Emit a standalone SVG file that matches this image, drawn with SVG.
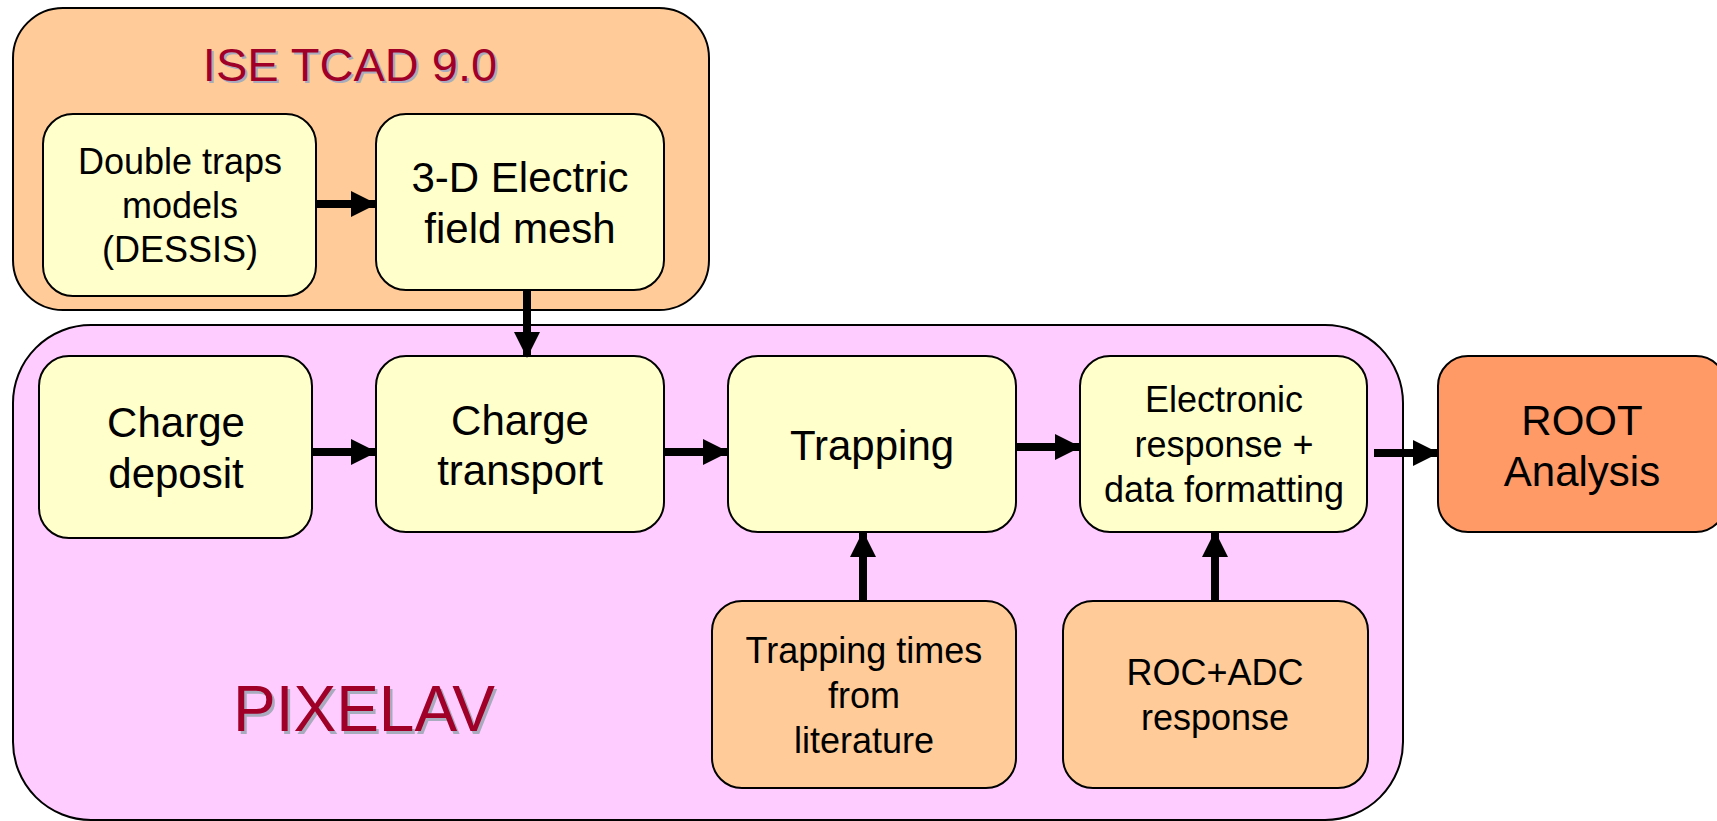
<svg xmlns="http://www.w3.org/2000/svg" width="1717" height="821" viewBox="0 0 1717 821">
<style>
.box{stroke:#000;stroke-width:2}
.yel{fill:#FFFFCC}
.peach{fill:#FFCC99}
.pink{fill:#FFCCFF}
.root{fill:#FF9966}
.t{font-family:"Liberation Sans",Arial,sans-serif;fill:#000;text-anchor:middle}
.t42{font-size:42px}
.t36{font-size:36px}
.title{font-family:"Liberation Sans",Arial,sans-serif;fill:#A00028;text-anchor:middle}
.shadow{fill:#A8ABBE}
.conn{stroke:#000;stroke-width:8;fill:none}
</style>
<defs>
<marker id="ah" markerUnits="userSpaceOnUse" markerWidth="26" markerHeight="26" viewBox="0 0 26 26" refX="25" refY="13" orient="auto">
<path d="M0,0 L26,13 L0,26 Z" fill="#000"/>
</marker>
</defs>
<rect width="1717" height="821" fill="#fff"/>

<g id="ise-tcad">
<rect class="box peach" x="13" y="8" width="696" height="302" rx="50" ry="50"/>
<text class="title shadow" x="352" y="82.5" font-size="47">ISE TCAD 9.0</text>
<text class="title" x="350" y="80.5" font-size="47">ISE TCAD 9.0</text>
</g>

<g id="pixelav">
<rect class="box pink" x="13" y="325" width="1390" height="495" rx="78" ry="78"/>
<text class="title shadow" x="366.5" y="733.5" font-size="64">PIXELAV</text>
<text class="title" x="364" y="731" font-size="64">PIXELAV</text>
</g>

<g id="double-traps">
<rect class="box yel" x="43" y="114" width="273" height="182" rx="30" ry="30"/>
<text class="t t36" x="180" y="174">Double traps</text>
<text class="t t36" x="180" y="218">models</text>
<text class="t t36" x="180" y="262">(DESSIS)</text>
</g>

<g id="efield-mesh">
<rect class="box yel" x="376" y="114" width="288" height="176" rx="30" ry="30"/>
<text class="t t42" x="520" y="192">3-D Electric</text>
<text class="t t42" x="520" y="243">field mesh</text>
</g>

<g id="charge-deposit">
<rect class="box yel" x="39" y="356" width="273" height="182" rx="30" ry="30"/>
<text class="t t42" x="176" y="437">Charge</text>
<text class="t t42" x="176" y="488">deposit</text>
</g>

<g id="charge-transport">
<rect class="box yel" x="376" y="356" width="288" height="176" rx="30" ry="30"/>
<text class="t t42" x="520" y="435">Charge</text>
<text class="t t42" x="520" y="485">transport</text>
</g>

<g id="trapping">
<rect class="box yel" x="728" y="356" width="288" height="176" rx="30" ry="30"/>
<text class="t t42" x="872" y="460">Trapping</text>
</g>

<g id="electronic">
<rect class="box yel" x="1080" y="356" width="287" height="176" rx="30" ry="30"/>
<text class="t t36" x="1224" y="412">Electronic</text>
<text class="t t36" x="1224" y="457">response +</text>
<text class="t t36" x="1224" y="502">data formatting</text>
</g>

<g id="root-analysis">
<rect class="box root" x="1438" y="356" width="288" height="176" rx="30" ry="30"/>
<text class="t t42" x="1582" y="435">ROOT</text>
<text class="t t42" x="1582" y="486">Analysis</text>
</g>

<g id="trapping-times">
<rect class="box peach" x="712" y="601" width="304" height="187" rx="30" ry="30"/>
<text class="t t36" x="864" y="663">Trapping times</text>
<text class="t t36" x="864" y="708">from</text>
<text class="t t36" x="864" y="753">literature</text>
</g>

<g id="roc-adc">
<rect class="box peach" x="1063" y="601" width="305" height="187" rx="30" ry="30"/>
<text class="t t36" x="1215" y="685">ROC+ADC</text>
<text class="t t36" x="1215" y="730">response</text>
</g>

<g id="connectors">
<line class="conn" x1="317" y1="204" x2="376" y2="204" marker-end="url(#ah)"/>
<line class="conn" x1="527" y1="291" x2="527" y2="357" marker-end="url(#ah)"/>
<line class="conn" x1="313" y1="452" x2="376" y2="452" marker-end="url(#ah)"/>
<line class="conn" x1="665" y1="452" x2="728" y2="452" marker-end="url(#ah)"/>
<line class="conn" x1="1017" y1="447" x2="1080" y2="447" marker-end="url(#ah)"/>
<line class="conn" x1="1374" y1="453" x2="1438" y2="453" marker-end="url(#ah)"/>
<line class="conn" x1="863" y1="600" x2="863" y2="532" marker-end="url(#ah)"/>
<line class="conn" x1="1215" y1="600" x2="1215" y2="532" marker-end="url(#ah)"/>
</g>
</svg>
